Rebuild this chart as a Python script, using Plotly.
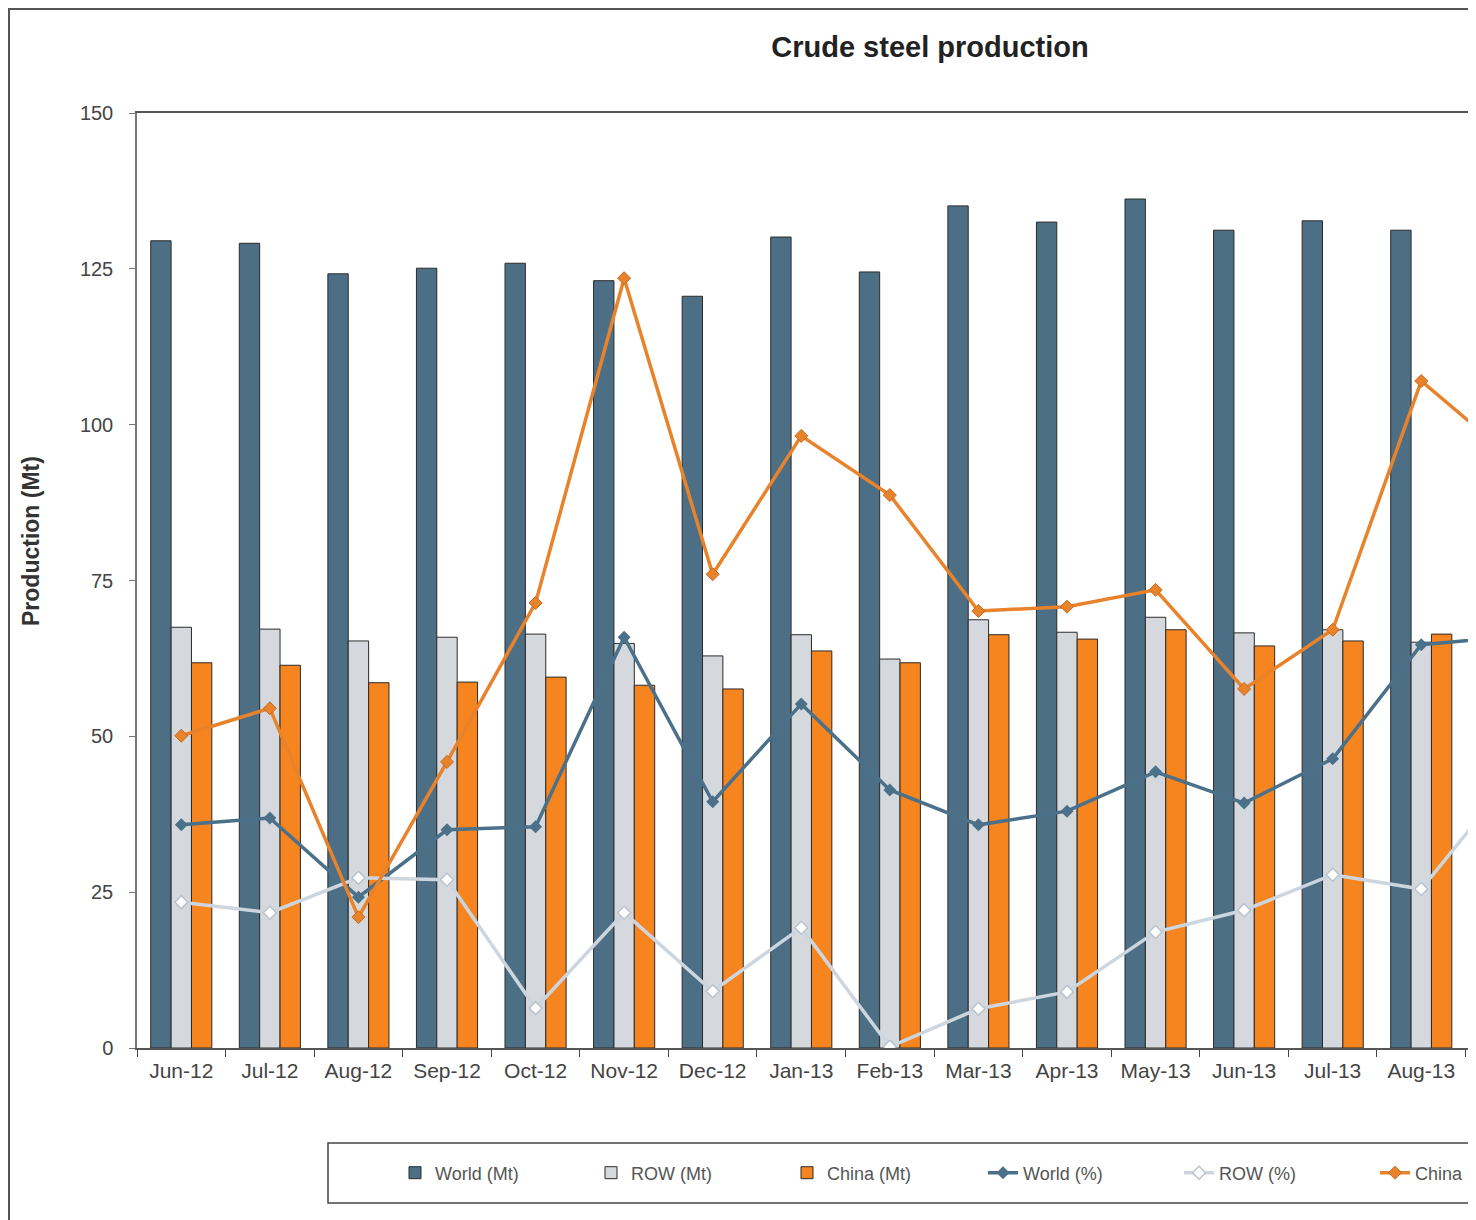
import plotly.graph_objects as go

months = ["Jun-12", "Jul-12", "Aug-12", "Sep-12", "Oct-12", "Nov-12", "Dec-12",
          "Jan-13", "Feb-13", "Mar-13", "Apr-13", "May-13", "Jun-13", "Jul-13",
          "Aug-13", "Sep-13"]

world_mt = [129.5, 129.1, 124.2, 125.1, 125.9, 123.1, 120.6, 130.1, 124.5,
            135.1, 132.5, 136.2, 131.2, 132.7, 131.2, 128.0]
row_mt = [67.5, 67.2, 65.3, 65.9, 66.4, 64.9, 62.9, 66.3, 62.4,
          68.7, 66.7, 69.1, 66.6, 67.1, 65.1, 65.0]
china_mt = [61.8, 61.4, 58.6, 58.7, 59.5, 58.2, 57.6, 63.7, 61.8,
            66.3, 65.6, 67.1, 64.5, 65.3, 66.4, 63.0]

world_pct = [35.8, 36.9, 24.2, 35.0, 35.5, 65.9, 39.5, 55.2, 41.4,
             35.8, 38.0, 44.3, 39.3, 46.4, 64.7, 66.0]
row_pct = [23.4, 21.7, 27.3, 27.0, 6.4, 21.7, 9.1, 19.3, 0.2,
           6.3, 9.0, 18.6, 22.1, 27.8, 25.5, 43.0]
china_pct = [50.1, 54.5, 21.0, 45.9, 71.4, 123.5, 76.0, 98.2, 88.7,
             70.1, 70.8, 73.5, 57.6, 67.1, 107.0, 95.0]

y_ticks = [0, 25, 50, 75, 100, 125, 150]

# page places the figure 8px in from the top-left corner
OFF = 8
W, H = 1476, 1220
L, T = 137 - OFF, 113 - OFF
R = 0
B = H - (1048 - OFF)
pw, ph = W - L - R, H - T - B
CAT_PX = 88.57


def px(x):  # screen x -> paper
    return (x - OFF - L) / pw


def py(y):  # screen y -> paper
    return (1048 - y) / ph


WORLD_C = "#4d6f86"
ROW_C = "#d5d9de"
CHINA_C = "#f6841f"
OUT = "#2b2b2b"

fig = go.Figure()
fig.add_trace(go.Bar(x=months, y=world_mt, name="World (Mt)",
                     marker=dict(color=WORLD_C, line=dict(color=OUT, width=1))))
fig.add_trace(go.Bar(x=months, y=row_mt, name="ROW (Mt)",
                     marker=dict(color=ROW_C, line=dict(color=OUT, width=1))))
fig.add_trace(go.Bar(x=months, y=china_mt, name="China (Mt)",
                     marker=dict(color=CHINA_C, line=dict(color=OUT, width=1))))
fig.add_trace(go.Scatter(x=months, y=world_pct, name="World (%)", mode="lines+markers",
                         line=dict(color="#4a7189", width=3.5),
                         marker=dict(symbol="diamond", size=10, color="#4a7189")))
fig.add_trace(go.Scatter(x=months, y=row_pct, name="ROW (%)", mode="lines+markers",
                         line=dict(color="#cdd6df", width=3.5),
                         marker=dict(symbol="diamond", size=10, color="white",
                                     line=dict(color="#b9c3cc", width=1.5))))
fig.add_trace(go.Scatter(x=months, y=china_pct, name="China (%)", mode="lines+markers",
                         line=dict(color="#e8832b", width=3.5),
                         marker=dict(symbol="diamond", size=10, color="#e8832b",
                                     line=dict(color="#c46a1f", width=1))))

fig.update_layout(
    width=W, height=H,
    margin=dict(l=L, r=R, t=T, b=B, autoexpand=False),
    paper_bgcolor="white", plot_bgcolor="white",
    barmode="group", bargap=0.31, bargroupgap=0,
    font=dict(family="Liberation Sans, Arial, sans-serif", color="#333333"),
    title=dict(text="<b>Crude steel production</b>", x=(930 - OFF) / W, xref="container",
               xanchor="center", y=1 - (47 - OFF) / H, yref="container", yanchor="middle",
               font=dict(size=29, color="#222222")),
    showlegend=True,
    legend=dict(orientation="h", x=px(395), xanchor="left", y=py(1173), yanchor="middle",
                font=dict(size=18, color="#555555"), entrywidth=151,
                entrywidthmode="pixels", bgcolor="rgba(0,0,0,0)", borderwidth=0,
                traceorder="normal"),
)

fig.update_xaxes(range=[-0.5, -0.5 + pw / CAT_PX], showline=True,
                 linecolor="#555555", linewidth=1.5, mirror=True, ticks="outside",
                 tickson="boundaries", ticklen=7, tickcolor="#444444", showgrid=False,
                 tickfont=dict(size=21, color="#444444"), ticklabelstandoff=3)
fig.update_yaxes(range=[0, 150], tickvals=y_ticks, showline=True, linecolor="#777777",
                 linewidth=1.5, ticks="outside", ticklen=6, tickcolor="#777777",
                 showgrid=False, zeroline=False, tickfont=dict(size=20, color="#444444"),
                 ticklabelstandoff=12)

# y-axis title
fig.add_annotation(text="<b>Production (Mt)</b>", textangle=-90, x=px(31), y=py(541),
                   xref="paper", yref="paper", xanchor="center", yanchor="middle",
                   showarrow=False, font=dict(size=23, color="#333333"))

# outer chart frame (top and left edges visible) and legend box
fig.add_shape(type="line", xref="paper", yref="paper", x0=px(0), x1=px(W + 20),
              y0=py(9), y1=py(9), line=dict(color="#555555", width=2))
fig.add_shape(type="line", xref="paper", yref="paper", x0=px(9), x1=px(9),
              y0=py(9), y1=py(H + 20), line=dict(color="#555555", width=2))
fig.add_shape(type="rect", xref="paper", yref="paper", x0=px(328), x1=px(W + 30),
              y0=py(1143), y1=py(1203), line=dict(color="#444444", width=1.5))

fig.write_html("out.html")
